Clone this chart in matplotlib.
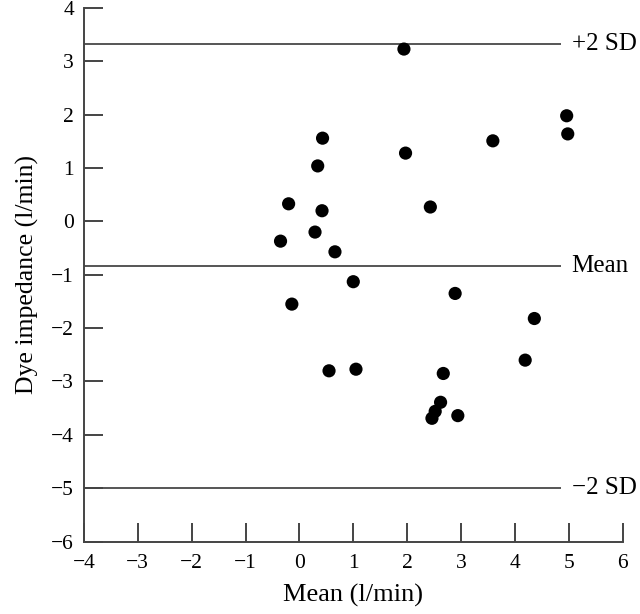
import matplotlib
matplotlib.use("Agg")
import matplotlib.pyplot as plt

# ─── Style ───────────────────────────────────────────────────────────────────
plt.rcParams.update({
    'font.family': ['Liberation Serif', 'DejaVu Serif'],
    'axes.unicode_minus': True,
})

# ─── Data ────────────────────────────────────────────────────────────────────
mean_flow = [1.94, 4.96, 4.98, 0.43, 3.59, 1.97, 0.34, -0.20, 0.42, 2.43,
             -0.35, 0.29, 0.66, 1.00, -0.14, 2.89, 4.36, 4.19, 0.55, 1.05,
             2.67, 2.62, 2.52, 2.46, 2.94]
difference = [3.23, 1.98, 1.64, 1.56, 1.51, 1.28, 1.04, 0.33, 0.20, 0.27,
              -0.37, -0.20, -0.57, -1.13, -1.55, -1.35, -1.82, -2.60, -2.80, -2.77,
              -2.85, -3.39, -3.56, -3.69, -3.64]

ref_levels = [3.33, -0.83, -5.0]
ref_labels = ['+2 SD', 'Mean', '\u22122 SD']

x_ticks = list(range(-4, 7))
y_ticks = list(range(-6, 5))

# ─── Figure ──────────────────────────────────────────────────────────────────
fig = plt.figure(figsize=(6.4, 6.14), dpi=100)
ax = fig.add_axes([0.131, 0.118, 0.842, 0.869])

line_color = '#555555'
for lvl, lab in zip(ref_levels, ref_labels):
    ax.plot([-4, 4.86], [lvl, lvl], color=line_color, lw=1.4, solid_capstyle='butt',
            clip_on=False, zorder=1)
    ax.text(5.05, lvl, lab, fontsize=18, va='center', ha='left', clip_on=False)

ax.scatter(mean_flow, difference, s=90, color='black', edgecolors='none', zorder=3)

ax.set_xlim(-4, 6)
ax.set_ylim(-6, 4)
ax.set_xticks(x_ticks)
ax.set_yticks(y_ticks)

for side in ['top', 'right']:
    ax.spines[side].set_visible(False)
for side in ['left', 'bottom']:
    ax.spines[side].set_color('#444444')
    ax.spines[side].set_linewidth(1.4)

ax.tick_params(direction='in', length=13.5, width=1.4, color='#444444',
               labelsize=15.5, pad=7)
ax.tick_params(axis='x', pad=9)

ax.set_xlabel('Mean (l/min)', fontsize=19, labelpad=8)
ax.set_ylabel('Dye impedance (l/min)', fontsize=18.5, labelpad=9)

fig.savefig('out.png', dpi=100)
